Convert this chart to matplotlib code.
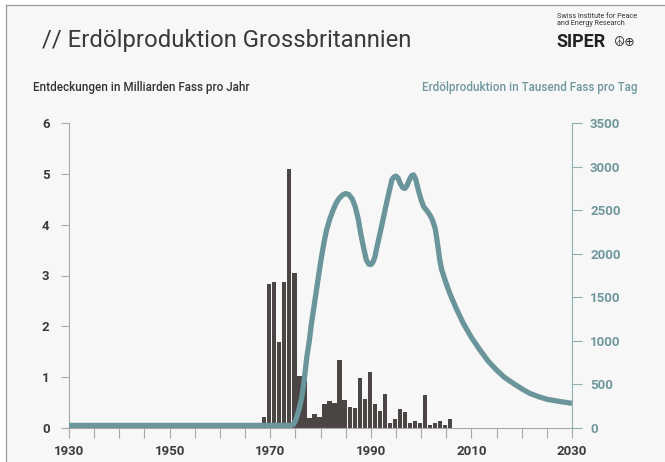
import numpy as np
import matplotlib.pyplot as plt
from matplotlib.patches import Rectangle
from matplotlib.lines import Line2D

# discoveries, billion barrels per year
disc_years = [1969, 1970, 1971, 1972, 1973, 1974, 1975, 1976, 1977, 1978, 1979,
              1980, 1981, 1982, 1983, 1984, 1985, 1986, 1987, 1988, 1989, 1990,
              1991, 1992, 1993, 1994, 1995, 1996, 1997, 1998, 1999, 2000, 2001,
              2002, 2003, 2004, 2005, 2006]
disc_values = [0.21, 2.83, 2.87, 1.69, 2.87, 5.10, 3.05, 1.02, 0.95, 0.20, 0.28,
               0.22, 0.47, 0.53, 0.49, 1.33, 0.56, 0.41, 0.39, 0.98, 0.58, 1.11,
               0.47, 0.33, 0.67, 0.10, 0.17, 0.38, 0.32, 0.10, 0.14, 0.10, 0.64,
               0.05, 0.10, 0.14, 0.06, 0.17]

# production, thousand barrels per day
prod_years = [1930, 1974, 1974.6, 1975.0, 1975.3, 1975.8, 1976.3, 1976.8, 1977.3,
              1977.8, 1978.2, 1978.7, 1979.2, 1979.7, 1980.2, 1980.7, 1981.2,
              1981.8, 1982.5, 1983.1, 1983.7, 1984.4, 1985.0, 1985.6, 1986.3,
              1986.9, 1987.5, 1988.0, 1988.6, 1989.1, 1989.6, 1990.0, 1990.4,
              1990.8, 1991.2, 1992.2, 1993.2, 1994.2, 1994.6, 1995.0, 1995.4,
              1995.9, 1996.4, 1996.8, 1997.2, 1997.6, 1998.1, 1998.5, 1998.9,
              1999.5, 2000.0, 2000.5, 2001.2, 2001.8, 2002.3, 2002.8, 2003.1,
              2003.4, 2003.7, 2004.1, 2004.8, 2005.7, 2007.0, 2008.4, 2010.0,
              2011.7, 2013.3, 2015.0, 2016.6, 2018.3, 2020.0, 2021.6, 2023.3,
              2025.0, 2027.5, 2030]
prod_values = [30, 30, 40, 80, 130, 230, 360, 570, 820,
               1010, 1200, 1390, 1585, 1780, 1965, 2130, 2270,
               2390, 2500, 2580, 2635, 2675, 2690, 2680, 2630,
               2540, 2400, 2230, 2060, 1930, 1880, 1875, 1900,
               1960, 2070, 2330, 2600, 2850, 2880, 2890, 2870,
               2800, 2755, 2750, 2780, 2840, 2895, 2905, 2860,
               2720, 2620, 2540, 2490, 2440, 2380, 2290, 2180,
               2060, 1930, 1815, 1690, 1545, 1370, 1200, 1040,
               895, 770, 665, 580, 513, 450, 398, 360,
               330, 305, 283]

x_ticks_major = [1930, 1950, 1970, 1990, 2010, 2030]
left_ticks = [0, 1, 2, 3, 4, 5, 6]
right_ticks = [0, 500, 1000, 1500, 2000, 2500, 3000, 3500]

bg = '#f7f7f7'
bar_col = '#4b4644'
teal = '#6a959a'
teal_txt = '#6f979c'
dark = '#3c3c3c'
grey = '#a8a8a8'

plt.rcParams['font.family'] = ['Roboto', 'DejaVu Sans']

fig = plt.figure(figsize=(6.65, 4.62), dpi=100)
fig.patch.set_facecolor('white')
# panel background with the grey frame on top and left
fig.patches.append(Rectangle((6 / 665, 0), 1, 1 - 5 / 462, transform=fig.transFigure,
                             facecolor=bg, edgecolor='none', zorder=-10))
fig.lines.append(Line2D([6 / 665, 6 / 665], [0, 1 - 5 / 462], transform=fig.transFigure,
                        color='#9a9a9a', lw=0.9, zorder=-5))
fig.lines.append(Line2D([6 / 665, 1], [1 - 5 / 462, 1 - 5 / 462], transform=fig.transFigure,
                        color='#9a9a9a', lw=0.9, zorder=-5))

ax = fig.add_axes([69 / 665, 34 / 462, (572 - 69) / 665, (428 - 123) / 462])
ax.set_facecolor('none')
ax.bar(np.array(disc_years) - 0.2, disc_values, width=0.86, color=bar_col, zorder=2)
ax.set_xlim(1930, 2030)
ax.set_ylim(0, 6)
ax.set_xticks(x_ticks_major)
ax.set_xticks(np.arange(1930, 2031, 5), minor=True)
ax.set_yticks(left_ticks)
ax.tick_params(axis='x', which='both', direction='out', length=7, width=0.8,
               color=grey, labelsize=9.5, labelcolor=dark, pad=5)
ax.tick_params(axis='y', direction='out', length=6, width=0.8, color=grey,
               labelsize=9.5, labelcolor=dark, pad=8)
for lab in ax.get_xticklabels() + ax.get_yticklabels():
    lab.set_fontweight('bold')
for s in ['top', 'right']:
    ax.spines[s].set_visible(False)
ax.spines['left'].set_color(grey)
ax.spines['bottom'].set_color(grey)
ax.spines['left'].set_linewidth(0.8)
ax.spines['bottom'].set_linewidth(0.8)

ax2 = ax.twinx()
ax2.plot(prod_years, prod_values, color=teal, lw=3.8, solid_capstyle='butt',
         solid_joinstyle='round', zorder=3, clip_on=False)
ax2.set_ylim(0, 3500)
ax2.set_yticks(right_ticks)
ax2.tick_params(axis='y', direction='out', length=7, width=0.8, color='#8fb0b3',
                labelsize=9.5, labelcolor=teal_txt, pad=6)
for lab in ax2.get_yticklabels():
    lab.set_fontweight('bold')
for s in ['top', 'left', 'bottom']:
    ax2.spines[s].set_visible(False)
ax2.spines['right'].set_color('#8fb0b3')
ax2.spines['right'].set_linewidth(0.8)

fig.text(42 / 665, 1 - 40 / 462, '// Erdölproduktion Grossbritannien', fontsize=17.2,
         color='#3a3a3a', va='center', ha='left', fontweight='normal')
fig.text(33 / 665, 1 - 88 / 462, 'Entdeckungen in Milliarden Fass pro Jahr', fontsize=8.4,
         color='#333333', va='center', ha='left', fontweight='medium')
fig.text(637 / 665, 1 - 88 / 462, 'Erdölproduktion in Tausend Fass pro Tag', fontsize=8.4,
         color=teal_txt, va='center', ha='right', fontweight='medium')

fig.text(557 / 665, 1 - 20 / 462, 'Swiss Institute for Peace\nand Energy Research',
         fontsize=5.2, color='#333333', va='center', ha='left', linespacing=1.0)
fig.text(556 / 665, 1 - 42 / 462, 'SIPER', fontsize=13, color='#222222',
         va='center', ha='left', fontweight='bold')
fig.text(614 / 665, 1 - 43 / 462, '☮⊕', fontsize=9, color='#333333',
         va='center', ha='left', family=['DejaVu Sans'])

fig.savefig('out.png', dpi=100, facecolor=fig.get_facecolor())
